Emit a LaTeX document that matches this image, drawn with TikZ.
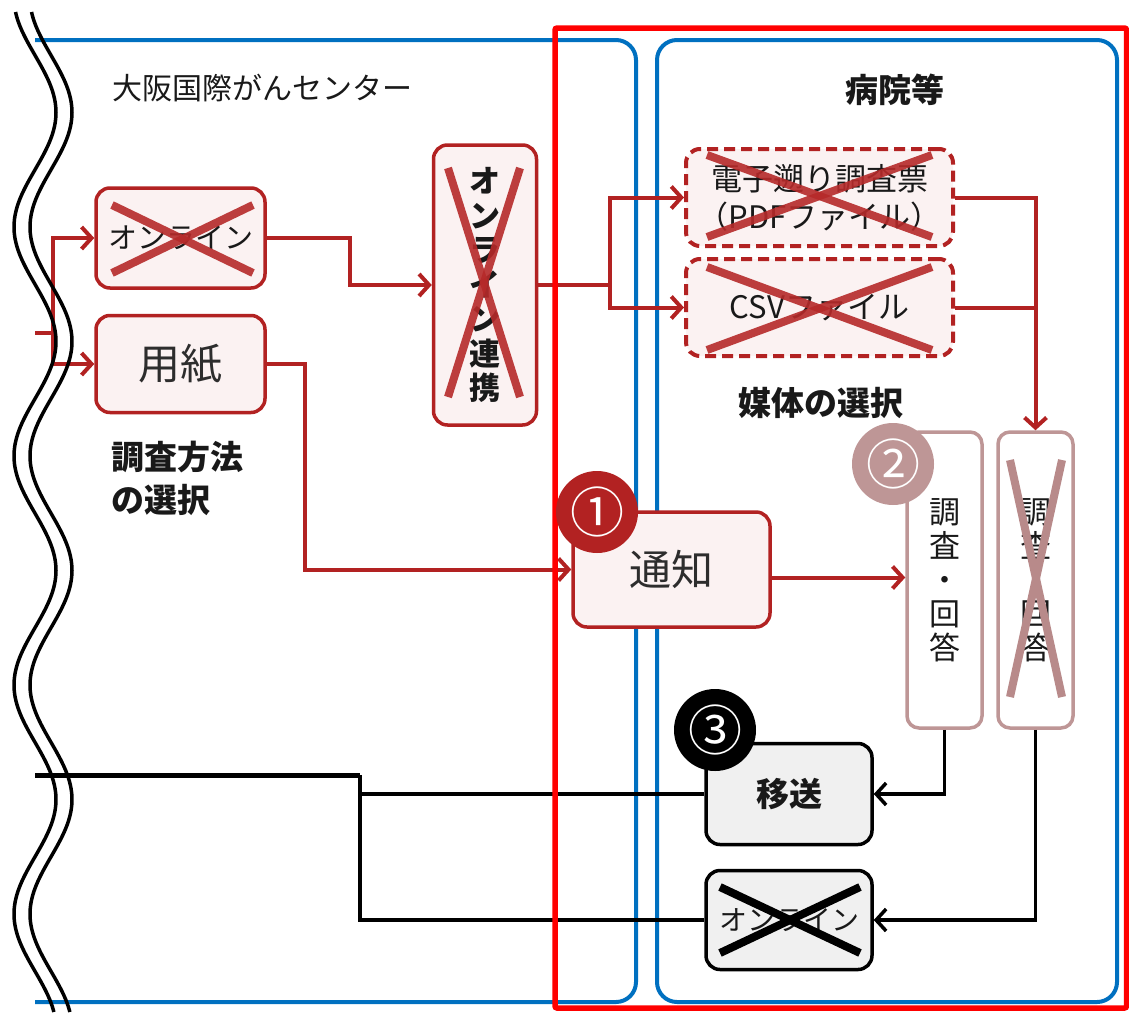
\documentclass[tikz,border=0pt]{standalone}
\usepackage{fontspec}
\setmainfont{Noto Sans CJK JP}
\usetikzlibrary{arrows.meta}
\definecolor{fb}{RGB}{178,34,34}
\definecolor{xredc}{RGB}{182,42,42}
\definecolor{pinkfill}{RGB}{251,242,242}
\definecolor{rosy}{RGB}{190,150,150}
\definecolor{rosyx}{RGB}{184,138,138}
\definecolor{bluel}{RGB}{0,112,192}
\definecolor{grayfill}{RGB}{240,240,240}
\definecolor{txt}{RGB}{25,25,25}
\definecolor{txtg}{RGB}{45,45,45}
\begin{document}
\begin{tikzpicture}[x=1pt,y=-1pt,
  pbox/.style={draw=fb, fill=pinkfill, line width=3.5pt, rounded corners=14pt, text=txt, inner sep=0pt},
  dbox/.style={pbox, dash pattern=on 11pt off 6pt, line width=4pt},
  gbox/.style={draw=black, fill=grayfill, line width=3.5pt, rounded corners=14pt, inner sep=0pt, text=txt},
  rbox/.style={draw=rosy, fill=white, line width=3.5pt, rounded corners=12pt, inner sep=0pt, text=txt},
  rconn/.style={draw=fb, line width=4pt},
  kconn/.style={draw=black, line width=3.5pt},
  tip/.style={-{Straight Barb[length=10pt,width=22pt]}},
  xr/.style={draw=xredc, line width=8pt, opacity=0.9},
  xk/.style={draw=black, line width=8pt},
  xq/.style={draw=rosyx, line width=8pt},
  num/.style={circle, minimum size=82pt, inner sep=0pt, text=white, font=\fontsize{54}{54}\selectfont},
  lbl/.style={text=txt, inner sep=0pt},
]
\useasboundingbox (0,0) rectangle (1129,1012);

% blue areas
\draw[bluel, line width=4pt, rounded corners=20pt] (35,40) -- (636,40) -- (636,1002) -- (35,1002);
\draw[bluel, line width=4pt, rounded corners=20pt] (657,40) rectangle (1117,1002);

% labels
\node[lbl, anchor=west, font=\fontsize{30}{30}\selectfont] (centre) at (112,88) {大阪国際がんセンター};
\node[lbl, font=\bfseries\fontsize{33}{33}\selectfont] (hosp) at (895,90) {病院等};
\node[lbl, font=\bfseries\fontsize{33}{33}\selectfont] (media) at (821,403) {媒体の選択};
\node[lbl, anchor=west, align=left, font=\bfseries\fontsize{33}{43}\selectfont] (method) at (111,478) {調査方法\\の選択};

% boxes
\node[pbox, minimum width=169pt, minimum height=100pt, font=\fontsize{29}{29}\selectfont] (online1) at (180.5,238) {オンライン};
\node[pbox, minimum width=169pt, minimum height=97pt, font=\fontsize{42}{42}\selectfont, text=txtg] (paper) at (180.5,364) {用紙};
\node[pbox, minimum width=103pt, minimum height=280pt, align=center, font=\bfseries\fontsize{31}{34.5}\selectfont] (olink) at (485,285) {オ\\ン\\ラ\\イ\\ン\\連\\携};
\node[dbox, minimum width=267pt, minimum height=97pt, align=center, font=\fontsize{31}{38}\selectfont] (pdf) at (819.5,197.5) {電子遡り調査票\\（PDFファイル）};
\node[dbox, minimum width=267pt, minimum height=97pt, font=\fontsize{31}{31}\selectfont] (csv) at (819.5,307.5) {CSVファイル};
\node[pbox, minimum width=197pt, minimum height=115pt, font=\fontsize{42}{42}\selectfont, text=txtg] (notice) at (671.5,569.5) {通知};
\node[rbox, minimum width=75pt, minimum height=296pt, align=center, font=\fontsize{31}{34}\selectfont] (ans1) at (944.5,580) {調\\査\\・\\回\\答};
\node[rbox, minimum width=75pt, minimum height=296pt, align=center, font=\fontsize{31}{34}\selectfont] (ans2) at (1035.5,580) {調\\査\\・\\回\\答};
\node[gbox, minimum width=166pt, minimum height=101pt, font=\bfseries\fontsize{33}{33}\selectfont] (move) at (789,794) {移送};
\node[gbox, minimum width=166pt, minimum height=99pt, font=\fontsize{28}{28}\selectfont] (online2) at (789,920) {オンライン};

% crosses
\draw[xr] (112,205) -- (253,273); \draw[xr] (112,273) -- (253,205);
\draw[xr] (448,168) -- (520,397); \draw[xr] (520,168) -- (448,397);
\draw[xr] (707,155) -- (932,237); \draw[xr] (707,237) -- (932,155);
\draw[xr] (707,267) -- (932,350); \draw[xr] (707,350) -- (932,267);
\draw[xq] (1010,460) -- (1062,697); \draw[xq] (1062,460) -- (1010,697);
\draw[xk] (720,887) -- (860,953); \draw[xk] (720,953) -- (860,887);

% red connectors
\coordinate (inl) at (35,333);
\coordinate (inj) at (53,333);
\draw[rconn] (inl) -- (inj);
\draw[rconn, tip] (inj) |- (online1.west);
\draw[rconn, tip] (inj) |- (paper.west);
\draw[rconn, tip] (online1.east) -| (350,285) -- (olink.west);
\draw[rconn, tip] (paper.east) -- (305,364) |- (notice.west);
\coordinate (oj) at (610,285);
\draw[rconn] (olink.east) -- (oj);
\draw[rconn, tip] (oj) |- (pdf.west);
\draw[rconn, tip] (oj) |- (csv.west);
\draw[rconn, tip] (pdf.east) -| (ans2.north);
\draw[rconn] (csv.east) -- (csv.east -| ans2.north);
\coordinate (nout) at ([yshift=-8pt]notice.east);
\draw[rconn, tip] (nout) -- (nout -| ans1.west);

% black connectors
\draw[kconn, tip] (ans1.south) |- (move.east);
\draw[kconn, tip] (ans2.south) |- (online2.east);
\coordinate (bj) at (360,775);
\coordinate (bl) at (35,775);
\draw[kconn] (move.west) -| (bj);
\draw[kconn] (online2.west) -| (bj);
\draw[black, line width=5pt] (bj) -- (bl);

% red frame
\draw[red, line width=5.5pt, rounded corners=2pt] (555,28) rectangle (1126.5,1008);

% numbered circles
\node[num, fill=fb] (c1) at (597,512) {①};
\node[num, fill=rosy] (c2) at (893,464) {②};
\node[num, fill=black] (c3) at (715,730) {③};

% wave
\draw[black, line width=3.5pt] plot[domain=12:1012, samples=300, smooth] ({35-21*cos(1.572*(\x-227))}, \x);
\draw[black, line width=3.5pt] plot[domain=12:1012, samples=300, smooth] ({51-21*cos(1.572*(\x-227))}, \x);
\end{tikzpicture}
\end{document}
